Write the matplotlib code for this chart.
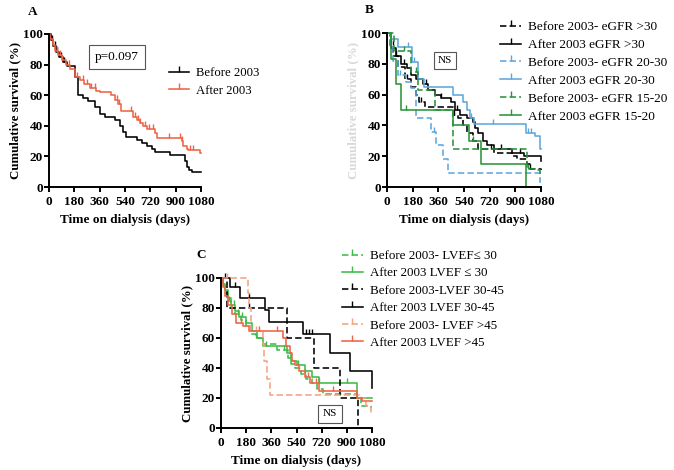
import numpy as np
import matplotlib
matplotlib.use('Agg')
import matplotlib.pyplot as plt
from matplotlib.lines import Line2D

plt.rcParams['font.family'] = ['Liberation Serif', 'DejaVu Serif']

# ---- panel A ----
a_before_t = [0, 15, 30, 50, 70, 100, 130, 183, 207, 242, 278, 325, 360, 396, 468, 503, 527, 546,
              622, 658, 693, 729, 753, 860, 966, 978, 995, 1014, 1080]
a_before_s = [100, 96, 92, 88, 85, 82, 79, 72, 60, 58, 56, 52, 48, 46, 44, 40, 36, 33,
              31, 29, 27, 25, 23, 21, 17, 13, 11, 10, 10]
a_before_c = [20, 40, 60, 85, 110]
a_after_t = [0, 10, 25, 45, 65, 90, 120, 150, 185, 218, 250, 290, 337, 360, 444, 470, 491, 515,
             598, 622, 645, 669, 693, 750, 764, 942, 954, 978, 990, 1075, 1080]
a_after_s = [100, 97, 93, 89, 86, 83, 80, 77, 72, 70, 67, 65, 63, 62, 60, 57, 54, 50,
             46, 44, 42, 40, 38, 35, 32, 30, 27, 25, 24, 22, 22]
a_after_c = [25, 55, 75, 95, 140, 200, 240, 270, 300, 330, 480, 500, 580, 610, 630, 650,
             680, 710, 740, 850, 930, 945, 1000, 1020]

# ---- panel B ----
b1_t = [0, 20, 45, 80, 128, 170, 200, 222, 269, 470, 500, 530, 560, 600, 640, 748, 877, 912, 982, 1000, 1080]
b1_s = [100, 92, 85, 78, 70, 65, 60, 55, 52, 47, 45, 40, 35, 30, 25, 22, 20, 18, 15, 12, 11]
b1_c = [40, 140, 240, 470, 730, 1000]
b2_t = [0, 30, 60, 100, 140, 170, 200, 250, 290, 340, 380, 450, 480, 510, 560, 600, 620, 640,
        670, 700, 748, 877, 958, 1078, 1080]
b2_s = [100, 90, 85, 80, 77, 73, 70, 67, 63, 60, 58, 55, 50, 47, 45, 42, 38, 35,
        30, 27, 25, 22, 20, 17, 17]
b2_c = [60, 120, 210, 270, 380, 490, 600, 800, 930]
b3_t = [0, 20, 45, 80, 130, 170, 206, 311, 346, 393, 428, 1076, 1080]
b3_s = [100, 91, 82, 73, 68, 64, 45, 36, 27, 18, 9, 3, 3]
b3_c = [90, 330]
b4_t = [0, 30, 77, 175, 215, 260, 460, 530, 560, 580, 610, 975, 1040, 1076, 1080]
b4_s = [100, 96, 91, 81, 70, 65, 60, 55, 50, 45, 41, 35, 33, 25, 25]
b4_c = [150, 190, 590, 740, 990, 1010]
b5_t = [0, 50, 170, 215, 340, 463, 985, 1040, 1076, 1080]
b5_s = [100, 88, 75, 63, 50, 25, 12, 11, 8, 8]
b5_c = [120, 200, 990]
b6_t = [0, 30, 60, 100, 465, 575, 660, 975, 976]
b6_s = [100, 83, 67, 50, 40, 30, 15, 0, 0]
b6_c = [130, 600]

# ---- panel C ----
c1_t = [0, 15, 30, 50, 70, 100, 140, 180, 215, 250, 300, 400, 480, 500, 530, 570, 610, 650,
        690, 730, 975, 1000, 1060, 1080]
c1_s = [100, 95, 90, 85, 80, 76, 72, 68, 63, 60, 56, 52, 47, 43, 40, 36, 33, 30,
        26, 23, 20, 15, 14, 14]
c1_c = [60, 120, 250, 450, 600]
c2_t = [0, 15, 30, 50, 70, 100, 130, 180, 220, 260, 300, 470, 500, 540, 600, 650, 700, 973, 1080]
c2_s = [100, 96, 92, 87, 82, 78, 74, 70, 65, 60, 55, 50, 45, 42, 38, 34, 30, 20, 20]
c2_c = [90, 150, 320, 550, 700, 900]
c3_t = [0, 43, 472, 663, 853, 977, 978]
c3_s = [100, 80, 60, 40, 20, 0, 0]
c3_c = [200]
c4_t = [0, 67, 138, 317, 345, 590, 782, 925, 1077, 1080]
c4_s = [100, 94, 87, 79, 71, 63, 50, 38, 27, 27]
c4_c = [30, 100, 200, 610, 630, 650]
c5_t = [0, 190, 200, 215, 300, 310, 330, 350, 1000, 1040, 1075, 1080]
c5_s = [100, 90, 80, 65, 56, 45, 33, 22, 20, 15, 11, 11]
c5_c = [40, 250]
c6_t = [0, 15, 30, 50, 80, 110, 160, 200, 440, 465, 490, 505, 530, 560, 600, 640, 700, 975, 1010, 1080]
c6_s = [100, 94, 88, 82, 76, 70, 68, 65, 60, 55, 50, 45, 42, 38, 34, 30, 25, 20, 18, 18]
c6_c = [140, 270, 400, 620, 680, 800]

xticks = [0, 180, 360, 540, 720, 900, 1080]
yticks = [0, 20, 40, 60, 80, 100]

RED = '#EE6446'
BLUE = '#5EA7DD'
GREEN = '#2A9439'
LGREEN = '#3DBB48'
ORANGE = '#F5A27E'
DASH = (0, (4, 2))


def km(ax, t, s, cens, color, ls='-'):
    ax.step(t, s, where='post', color=color, lw=1.15, ls=ls, clip_on=False)
    idx = np.searchsorted(t, cens, side='right') - 1
    ax.plot(cens, np.array(s)[idx], ls='none', marker=2, ms=3.5, mew=1.0, color=color, clip_on=False)


def style(ax, ylabel_color='black'):
    ax.set_xlim(0, 1080)
    ax.set_ylim(0, 100)
    ax.set_xticks(xticks)
    ax.set_yticks(yticks)
    for sp in ['top', 'right']:
        ax.spines[sp].set_visible(False)
    for sp in ['left', 'bottom']:
        ax.spines[sp].set_linewidth(1.4)
    ax.tick_params(direction='out', length=3.5, width=1.4, labelsize=9.5, pad=1)
    ax.tick_params(axis='x', pad=3)
    for lab in ax.get_xticklabels() + ax.get_yticklabels():
        lab.set_fontweight('bold')
    ax.set_xlabel('Time on dialysis (days)', fontsize=9.5, fontweight='bold', labelpad=4)
    ax.set_ylabel('Cumulative survival (%)', fontsize=9.3, fontweight='bold', labelpad=1.5,
                  color=ylabel_color)


def handle(color, ls='-'):
    return Line2D([], [], color=color, lw=1.15, ls=ls, marker=2, ms=4, mew=1.0)


fig = plt.figure(figsize=(6.74, 4.70), dpi=100)
W, H = 674, 470


def add_axes(x0, y0, x1, y1):
    return fig.add_axes([x0 / W, 1 - y1 / H, (x1 - x0) / W, (y1 - y0) / H])


def legend(ax, handles, labels, x, y, size, spacing):
    ax.legend(handles, labels, loc='upper left', bbox_to_anchor=(x / W, 1 - y / H),
              bbox_transform=fig.transFigure, frameon=False, fontsize=size, borderpad=0,
              borderaxespad=0, handlelength=1.6, handletextpad=0.55, labelspacing=spacing,
              numpoints=1)


# A
axA = add_axes(49, 34, 201, 187)
km(axA, a_before_t, a_before_s, a_before_c, 'black')
km(axA, a_after_t, a_after_s, a_after_c, RED)
style(axA)
axA.text(483, 85, 'p=0.097', ha='center', va='center', fontsize=9.5,
         bbox=dict(boxstyle='square,pad=0.45', fc='white', ec='#555555', lw=0.8))
legend(axA, [handle('black'), handle(RED)], ['Before 2003', 'After 2003'], 169, 67, 9.2, 0.45)
fig.text(28 / W, 1 - 12 / H, 'A', fontsize=9.5, fontweight='bold', va='center')

# B
axB = add_axes(387, 33, 541, 187)
km(axB, b1_t, b1_s, b1_c, 'black', DASH)
km(axB, b2_t, b2_s, b2_c, 'black')
km(axB, b3_t, b3_s, b3_c, BLUE, DASH)
km(axB, b4_t, b4_s, b4_c, BLUE)
km(axB, b5_t, b5_s, b5_c, GREEN, DASH)
km(axB, b6_t, b6_s, b6_c, GREEN)
style(axB, ylabel_color='#d8d8d8')
axB.text(407, 82, 'NS', ha='center', va='center', fontsize=8,
         bbox=dict(boxstyle='square,pad=0.35', fc='white', ec='#555555', lw=0.8))
legend(axB, [handle('black', DASH), handle('black'), handle(BLUE, DASH), handle(BLUE),
             handle(GREEN, DASH), handle(GREEN)],
       ['Before 2003- eGFR >30', 'After 2003 eGFR >30', 'Before 2003- eGFR 20-30',
        'After 2003 eGFR 20-30', 'Before 2003- eGFR 15-20', 'After 2003 eGFR 15-20'],
       500, 21, 9.5, 0.43)
fig.text(365 / W, 1 - 10 / H, 'B', fontsize=9.5, fontweight='bold', va='center')

# C
axC = add_axes(221, 278, 372, 428)
km(axC, c1_t, c1_s, c1_c, LGREEN, DASH)
km(axC, c2_t, c2_s, c2_c, LGREEN)
km(axC, c3_t, c3_s, c3_c, 'black', DASH)
km(axC, c4_t, c4_s, c4_c, 'black')
km(axC, c5_t, c5_s, c5_c, ORANGE, DASH)
km(axC, c6_t, c6_s, c6_c, RED)
style(axC)
axC.text(780, 9.5, 'NS', ha='center', va='center', fontsize=8,
         bbox=dict(boxstyle='square,pad=0.4', fc='white', ec='#555555', lw=0.8))
legend(axC, [handle(LGREEN, DASH), handle(LGREEN), handle('black', DASH), handle('black'),
             handle(ORANGE, DASH), handle(RED)],
       ['Before 2003- LVEF\u2264 30', 'After 2003 LVEF \u2264 30', 'Before 2003-LVEF 30-45',
        'After 2003 LVEF 30-45', 'Before 2003- LVEF >45', 'After 2003 LVEF >45'],
       342, 250, 9.4, 0.4)
fig.text(196 / W, 1 - 255 / H, 'C', fontsize=9.5, fontweight='bold', va='center')

fig.savefig('out.png', dpi=100)
